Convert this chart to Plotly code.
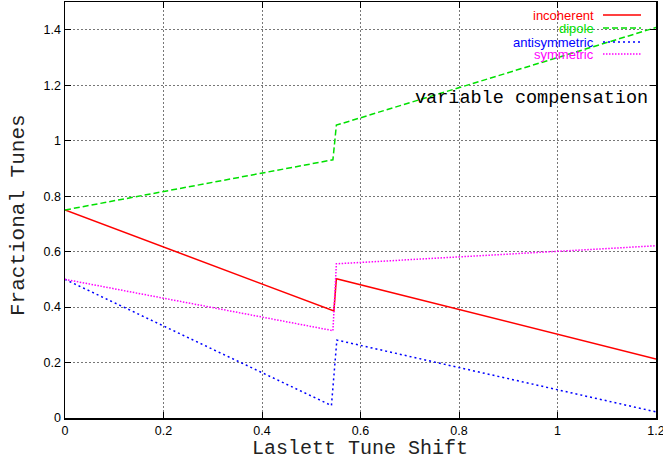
import plotly.graph_objects as go

# Data
inc_x = [0.0, 0.546, 0.551, 1.2]
inc_y = [0.75, 0.386, 0.502, 0.213]
dip_x = [0.0, 0.544, 0.551, 1.2]
dip_y = [0.75, 0.931, 1.056, 1.408]
anti_x = [0.0, 0.541, 0.552, 1.2]
anti_y = [0.5, 0.045, 0.281, 0.022]
sym_x = [0.0, 0.544, 0.551, 1.2]
sym_y = [0.5, 0.315, 0.556, 0.621]

series = [
    ("incoherent", inc_x, inc_y, "#ff0000", "solid"),
    ("dipole", dip_x, dip_y, "#00e000", "6px,3px"),
    ("antisymmetric", anti_x, anti_y, "#0000ff", "2px,3px"),
    ("symmetric", sym_x, sym_y, "#ff00ff", "1.5px,1.5px"),
]

xticks = [0, 0.2, 0.4, 0.6, 0.8, 1.0, 1.2]
xtick_labels = ["0", "0.2", "0.4", "0.6", "0.8", "1", "1.2"]
yticks = [0, 0.2, 0.4, 0.6, 0.8, 1.0, 1.2, 1.4]
ytick_labels = ["0", "0.2", "0.4", "0.6", "0.8", "1", "1.2", "1.4"]

fig = go.Figure()
for name, xs, ys, col, dash in series:
    fig.add_trace(go.Scatter(x=xs, y=ys, mode="lines", name=name,
                             line=dict(color=col, width=1.5, dash=dash),
                             showlegend=False))

W, H = 663, 463
L, R, T, B = 65, 7, 2, 45
pw, ph = W - L - R, H - T - B
def px(xp):
    return (xp - L) / pw
def py(yp):
    return 1 - (yp - T) / ph

mono = "Liberation Mono, Courier New, monospace"
sans = "Liberation Sans, Arial, Helvetica"

# gnuplot-style legend: text right-aligned, line sample to its right
rows = [15, 28, 42, 54]
for (name, xs, ys, col, dash), yp in zip(series, rows):
    fig.add_annotation(x=px(596), y=py(yp), xref="paper", yref="paper",
                       text=name, showarrow=False, xanchor="right", yanchor="middle",
                       font=dict(family=sans, size=13, color=col))
    fig.add_shape(type="line", xref="paper", yref="paper",
                  x0=px(603), x1=px(641), y0=py(yp), y1=py(yp),
                  line=dict(color=col, width=1.5, dash=dash))

fig.add_annotation(x=px(650), y=py(99), xref="paper", yref="paper",
                   text="variable compensation", showarrow=False,
                   xanchor="right", yanchor="middle",
                   font=dict(family=mono, size=18.5, color="black"))

# axis titles as paper annotations for precise placement
fig.add_annotation(x=px(360), y=py(448), xref="paper", yref="paper",
                   text="Laslett Tune Shift", showarrow=False,
                   xanchor="center", yanchor="middle",
                   font=dict(family=mono, size=20, color="#222222"))
fig.add_annotation(x=px(19), y=py(215), xref="paper", yref="paper",
                   text="Fractional Tunes", showarrow=False, textangle=-90,
                   xanchor="center", yanchor="middle",
                   font=dict(family=mono, size=21, color="#222222"))

axis_common = dict(showline=True, mirror="allticks", linecolor="black", linewidth=1.5,
                   ticks="inside", ticklen=6, tickcolor="black", tickwidth=1,
                   showgrid=True, gridcolor="#777777", griddash="2px,2px", gridwidth=1,
                   zeroline=False, automargin=False, ticklabeloverflow="allow",
                   tickfont=dict(family=sans, size=12.5, color="black"))

fig.update_layout(
    width=W, height=H,
    margin=dict(l=L, r=R, t=T, b=B),
    plot_bgcolor="white", paper_bgcolor="white",
    xaxis=dict(range=[0, 1.2], tickvals=xticks, ticktext=xtick_labels, **axis_common),
    yaxis=dict(range=[0, 1.5], tickvals=yticks, ticktext=ytick_labels, **axis_common),
)

fig.write_html("out.html",
               config={"displayModeBar": False, "staticPlot": True},
               post_script="document.body.style.margin='0';document.body.style.overflow='hidden';")
